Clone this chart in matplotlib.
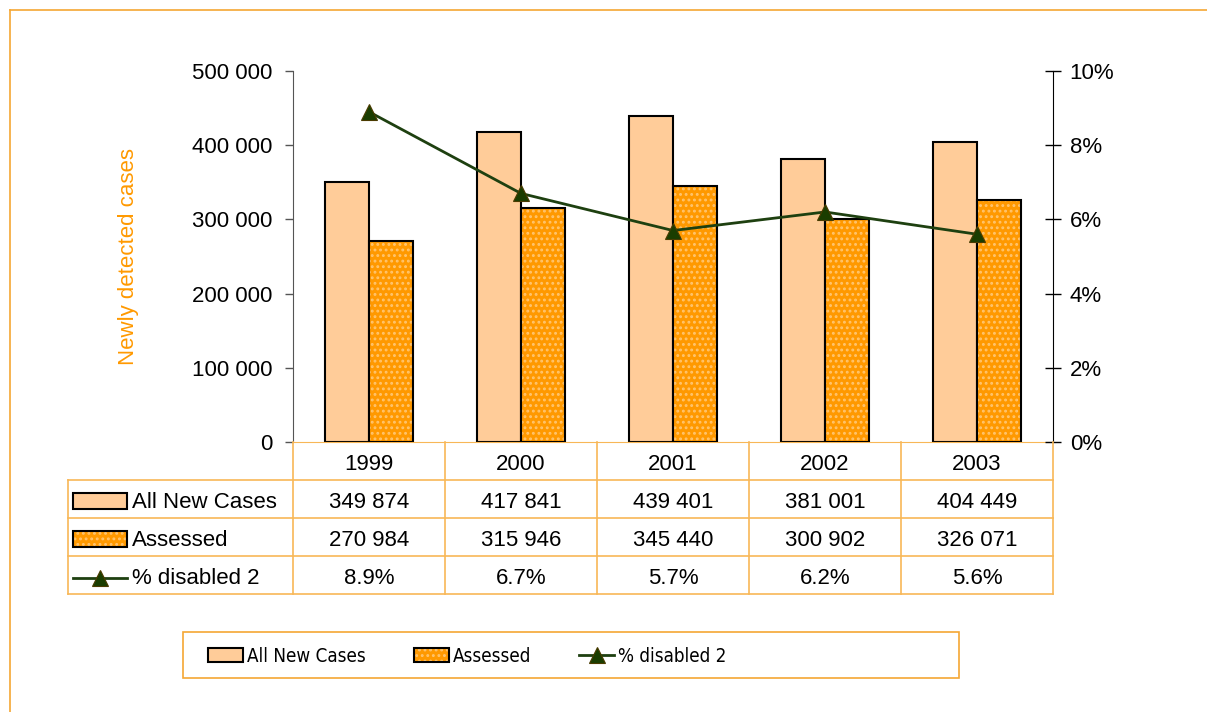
import matplotlib
matplotlib.use("Agg")
import matplotlib.pyplot as plt
import numpy as np
from matplotlib import font_manager
from matplotlib.lines import Line2D
from matplotlib.patches import Rectangle
from matplotlib.ticker import FuncFormatter

plt.rcParams["font.family"] = ["Liberation Sans", "DejaVu Sans"]
plt.rcParams["hatch.linewidth"] = 1.3

# data
years = ["1999", "2000", "2001", "2002", "2003"]
all_new = [349874, 417841, 439401, 381001, 404449]
assessed = [270984, 315946, 345440, 300902, 326071]
pct_disabled = [8.9, 6.7, 5.7, 6.2, 5.6]
series_names = ["All New Cases", "Assessed", "% disabled 2"]
left_ticks = [0, 100000, 200000, 300000, 400000, 500000]
right_ticks = [0, 2, 4, 6, 8, 10]

# style
W, H = 1207, 712
FS = 16
C_LIGHT = "#FFCC99"
C_ORANGE = "#FF9900"
C_DOTS = "#FFC46E"
C_LINE = "#1E4010"
C_MARK = "#1A3D00"
C_FRAME = "#F5A733"
C_GRID = "#F8B757"
HATCH = "..."


def fx(px):
    return px / W


def fy(py):
    return 1 - py / H


def space_thousands(v, _pos=None):
    return f"{v:,.0f}".replace(",", " ")


def legend_font():
    # the legend text in the original is a condensed face
    fonts = font_manager.fontManager.ttflist
    names = {f.name for f in fonts}
    if "Liberation Sans Narrow" in names:
        return {"family": "Liberation Sans Narrow", "size": 15.5}
    for f in fonts:
        if f.name == "DejaVu Sans" and str(f.stretch) in ("condensed", "semi-condensed"):
            return {"family": "DejaVu Sans", "stretch": "condensed", "size": 13.5}
    return {"family": "Liberation Sans", "size": 13}


fig = plt.figure(figsize=(W / 100, H / 100), dpi=100)

# outer frame (only top and left edges visible)
fig.add_artist(Line2D([fx(10), 1], [fy(10), fy(10)], color=C_FRAME, lw=1.2))
fig.add_artist(Line2D([fx(10), fx(10)], [fy(10), 0], color=C_FRAME, lw=1.2))

ax = fig.add_axes([fx(293), fy(442), fx(1053) - fx(293), fy(71) - fy(442)])
x = np.arange(len(years))
w = 0.29

ax.bar(x - w / 2, all_new, w, color=C_LIGHT, edgecolor="black", lw=1.5, zorder=2)
ax.bar(x + w / 2, assessed, w, color=C_ORANGE, edgecolor=C_DOTS, hatch=HATCH, lw=0, zorder=2)
ax.bar(x + w / 2, assessed, w, fill=False, edgecolor="black", lw=1.5, zorder=3)

ax.set_xlim(-0.5, len(years) - 0.5)
ax.set_ylim(0, 500000)
ax.set_yticks(left_ticks)
ax.yaxis.set_major_formatter(FuncFormatter(space_thousands))
ax.tick_params(axis="y", labelsize=FS, length=6, width=1, color="#555555", pad=9)
ax.tick_params(axis="x", bottom=False, labelbottom=False)
for s in ("top", "right"):
    ax.spines[s].set_visible(False)
ax.spines["left"].set_color("#555555")
ax.spines["bottom"].set_color(C_GRID)
ax.set_ylabel("Newly detected cases", color=C_ORANGE, fontsize=FS)
ax.yaxis.set_label_coords(-0.203, 0.5)

ax2 = ax.twinx()
ax2.plot(x, pct_disabled, color=C_LINE, lw=2, marker="^", ms=11,
         mfc=C_MARK, mec="#4A3B00", mew=0.8, zorder=4)
ax2.set_ylim(0, 10)
ax2.set_yticks(right_ticks)
ax2.yaxis.set_major_formatter(FuncFormatter(lambda v, p: f"{v:.0f}%"))
ax2.tick_params(axis="y", labelsize=FS, direction="inout", length=12, width=1, pad=6)
for s in ("top", "left", "bottom"):
    ax2.spines[s].set_visible(False)
ax2.spines["right"].set_color("black")

# data table under the plot
tax = fig.add_axes([fx(68), fy(594), fx(1053) - fx(68), fy(442) - fy(594)])
x_head = -0.5 - (293 - 68) / 152
tax.set_xlim(x_head, len(years) - 0.5)
tax.set_ylim(4, 0)
tax.axis("off")

tl = dict(color=C_GRID, lw=1.2, clip_on=False)
for r in range(1, 5):
    tax.plot([x_head, len(years) - 0.5], [r, r], **tl)
for k in range(len(years) + 1):
    tax.plot([k - 0.5, k - 0.5], [0, 4], **tl)
tax.plot([x_head, x_head], [1, 4], **tl)

dy = 0.6  # text centre within a row
for i, yr in enumerate(years):
    tax.text(i, dy, yr, ha="center", va="center", fontsize=FS)
    tax.text(i, 1 + dy, space_thousands(all_new[i]), ha="center", va="center", fontsize=FS)
    tax.text(i, 2 + dy, space_thousands(assessed[i]), ha="center", va="center", fontsize=FS)
    tax.text(i, 3 + dy, f"{pct_disabled[i]:.1f}%", ha="center", va="center", fontsize=FS)

key_x0 = x_head + 5 / 152
key_w = 54 / 152
txt_x = x_head + 64 / 152
# row keys
tax.add_patch(Rectangle((key_x0, 1.35), key_w, 0.42, facecolor=C_LIGHT,
                        edgecolor="black", lw=1.5, clip_on=False))
tax.add_patch(Rectangle((key_x0, 2.35), key_w, 0.42, facecolor=C_ORANGE,
                        edgecolor=C_DOTS, hatch=HATCH, lw=0, clip_on=False))
tax.add_patch(Rectangle((key_x0, 2.35), key_w, 0.42, fill=False,
                        edgecolor="black", lw=1.5, clip_on=False))
tax.plot([key_x0, key_x0 + key_w], [3.58, 3.58], color=C_LINE, lw=2, clip_on=False)
tax.plot([key_x0 + key_w / 2], [3.58], marker="^", ms=11, mfc=C_MARK,
         mec="#4A3B00", mew=0.8, clip_on=False)
for r, name in enumerate(series_names, start=1):
    tax.text(txt_x, r + dy, name, ha="left", va="center", fontsize=FS)

# legend
fig.add_artist(Rectangle((fx(183), fy(678)), fx(959) - fx(183), fy(632) - fy(678),
                         transform=fig.transFigure, fill=False,
                         edgecolor=C_FRAME, lw=1.2))
h1 = Rectangle((0, 0), 1, 1, facecolor=C_LIGHT, edgecolor="black", lw=1.5)
h2a = Rectangle((0, 0), 1, 1, facecolor=C_ORANGE, edgecolor=C_DOTS, hatch=HATCH, lw=0)
h2b = Rectangle((0, 0), 1, 1, fill=False, edgecolor="black", lw=1.5)
h3 = Line2D([], [], color=C_LINE, lw=2, marker="^", ms=11, mfc=C_MARK,
            mec="#4A3B00", mew=0.8)
prop = legend_font()
fpx = prop["size"] * 100 / 72
fig.legend([h1, (h2a, h2b), h3], series_names, loc="center left",
           bbox_to_anchor=(fx(208), fy(656)), ncol=3, frameon=False,
           borderpad=0, borderaxespad=0, prop=prop,
           handlelength=35 / fpx, handleheight=15 / fpx, handletextpad=4 / fpx,
           columnspacing=48 / fpx)

fig.savefig("out.png", dpi=100)
